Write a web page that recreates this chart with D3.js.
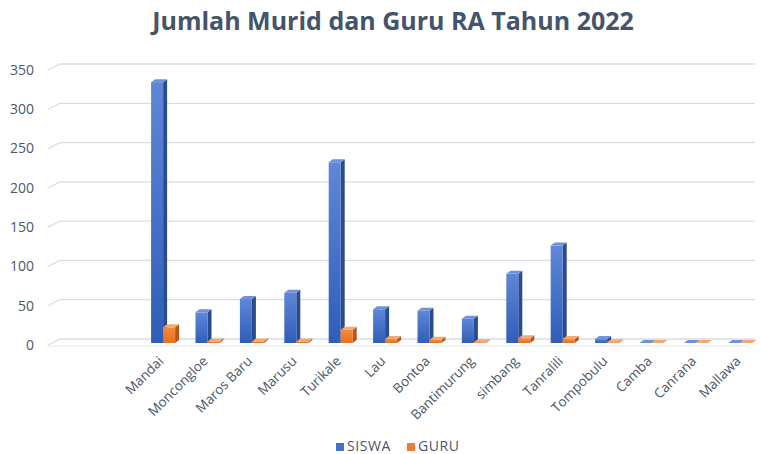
<!DOCTYPE html>
<html>
<head>
<meta charset="utf-8">
<script src="https://cdn.jsdelivr.net/npm/d3@7"></script>
<style>
  body { margin: 0; background: #fff; }
  svg { display: block; }
</style>
</head>
<body>
<svg id="chart" width="761" height="454"></svg>
<script>
// chart data
const categories = ["", " ", "Mandai", "Moncongloe", "Maros Baru", "Marusu", "Turikale", "Lau",
    "Bontoa", "Bantimurung", "simbang", "Tanralili", "Tompobulu", "Camba", "Canrana", "Mallawa"];
const siswa = [null, null, 332, 39, 56, 64, 230, 43, 41, 31, 88, 124, 5, 0, 0, 0];
const guru = [null, null, 20, 2, 2, 2, 17, 5, 4, 1, 6, 5, 1, 0, 0, 0];
const yTicks = [0, 50, 100, 150, 200, 250, 300, 350];
const seriesNames = ["SISWA", "GURU"];

const width = 761, height = 454;
const labelColor = "#4a576b";
const font = "'Open Sans', sans-serif";

const svg = d3.select("#chart");

// depth of the 3d bars
const depthX = 4, depthY = -3;

const x = d3.scaleBand()
    .domain(categories)
    .range([52.3, 762.7]);

const y = d3.scaleLinear()
    .domain([0, 350])
    .range([343, 68]);

const barWidth = 12;
const barOffset = 10;

// title
svg.append("text")
    .attr("x", 393)
    .attr("y", 30)
    .attr("text-anchor", "middle")
    .attr("font-family", font)
    .attr("font-weight", "bold")
    .attr("font-size", 25)
    .attr("fill", "#44546a")
    .text("Jumlah Murid dan Guru RA Tahun 2022");

// gridlines (back wall + side wall)
const grid = svg.append("g");
for (let t of yTicks) {
    let yf = y(t) + 2;
    let yb = y(t) - 4;
    grid.append("path")
        .attr("d", `M48,${yf}L60,${yb}L755,${yb}`)
        .attr("fill", "none")
        .attr("stroke", "#d9dde6")
        .attr("stroke-width", 1.3);
}
// floor front edge
svg.append("line")
    .attr("x1", 48).attr("x2", 750)
    .attr("y1", y(0) + 3).attr("y2", y(0) + 3)
    .attr("stroke", "#e4e7ee")
    .attr("stroke-width", 1);

// y labels
svg.append("g")
    .selectAll("text")
    .data(yTicks)
    .join("text")
    .attr("x", 34)
    .attr("y", d => y(d) + 2)
    .attr("dy", "0.35em")
    .attr("text-anchor", "end")
    .attr("font-family", font)
    .attr("font-size", 14)
    .attr("fill", labelColor)
    .text(d => d);

// gradients
const defs = svg.append("defs");
function addGradient(id, top, bottom) {
    let g = defs.append("linearGradient")
        .attr("id", id)
        .attr("x1", 0).attr("x2", 0).attr("y1", 0).attr("y2", 1);
    g.append("stop").attr("offset", "0%").attr("stop-color", top);
    g.append("stop").attr("offset", "100%").attr("stop-color", bottom);
}
addGradient("blueFront", "#5f87d8", "#2f5db8");
addGradient("orangeFront", "#f58a3c", "#e86f1c");

const seriesStyle = [
    { values: siswa, front: "url(#blueFront)", side: "#2b4c8c", top: "#6f92d8", shift: 0 },
    { values: guru, front: "url(#orangeFront)", side: "#b5561a", top: "#f5a870", shift: barWidth }
];

// bars
const bars = svg.append("g");
categories.forEach((c, i) => {
    for (let s of seriesStyle) {
        let v = s.values[i];
        if (v === null) continue;
        let x0 = x(c) + barOffset + s.shift;
        let x1 = x0 + barWidth;
        let yb = y(0);
        let yt = y(v);
        let g = bars.append("g");
        // side face
        g.append("path")
            .attr("d", `M${x1},${yb}L${x1 + depthX},${yb + depthY}L${x1 + depthX},${yt + depthY}L${x1},${yt}Z`)
            .attr("fill", s.side);
        // front face
        if (yb - yt > 0) {
            g.append("rect")
                .attr("x", x0)
                .attr("y", yt)
                .attr("width", barWidth)
                .attr("height", yb - yt)
                .attr("fill", s.front);
        }
        // top face
        g.append("path")
            .attr("d", `M${x0},${yt}L${x0 + depthX},${yt + depthY}L${x1 + depthX},${yt + depthY}L${x1},${yt}Z`)
            .attr("fill", s.top);
    }
});

// category labels
svg.append("g")
    .selectAll("text")
    .data(categories)
    .join("text")
    .attr("transform", d => `translate(${x(d) + x.bandwidth() / 2 + 1},${362}) rotate(-45)`)
    .attr("text-anchor", "end")
    .attr("font-family", font)
    .attr("font-size", 13.5)
    .attr("fill", labelColor)
    .text(d => d.trim());

// legend
const legendColors = ["#4472c4", "#ed7d31"];
const legendX = [336, 407];
const legend = svg.append("g");
seriesNames.forEach((name, i) => {
    legend.append("rect")
        .attr("x", legendX[i])
        .attr("y", 443)
        .attr("width", 8)
        .attr("height", 8)
        .attr("fill", legendColors[i]);
    legend.append("text")
        .attr("x", legendX[i] + 11)
        .attr("y", 446.5)
        .attr("dy", "0.35em")
        .attr("font-family", font)
        .attr("font-size", 14)
        .attr("letter-spacing", 0.6)
        .attr("fill", labelColor)
        .text(name);
});
</script>
</body>
</html>
